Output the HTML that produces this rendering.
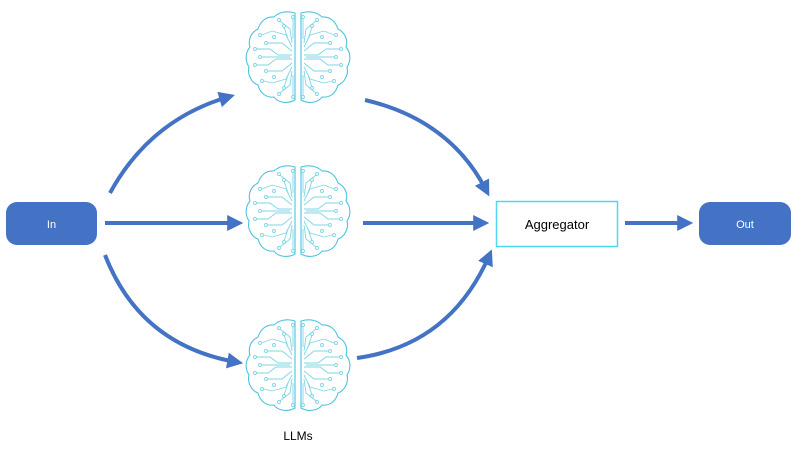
<!DOCTYPE html>
<html><head><meta charset="utf-8"><style>
html,body{margin:0;padding:0;background:#fff;}
svg{display:block;}
text{font-family:"Liberation Sans",sans-serif;}
</style></head><body>
<svg width="800" height="450" viewBox="0 0 800 450" xmlns="http://www.w3.org/2000/svg">
<defs>
<marker id="ah" markerWidth="4" markerHeight="4" refX="2.2" refY="2" orient="auto" markerUnits="strokeWidth">
<path d="M0,0 L4,2 L0,4 Z" fill="#4472C4"/>
</marker>
<g id="brain" fill="none" stroke="#4CC3DD" stroke-width="1.1">
<path d="M-3,-44 C-12,-47 -20,-44 -24,-40 C-33,-41 -38,-34 -40,-28 C-48,-24 -50,-16 -48,-10 C-53,-4 -53,4 -49,10 C-51,18 -46,26 -40,28 C-38,36 -32,41 -24,40 C-20,46 -10,47 -3,43 Z"/>
<path d="M3,-44 C12,-47 20,-44 24,-40 C33,-41 38,-34 40,-28 C48,-24 50,-16 48,-10 C53,-4 53,4 49,10 C51,18 46,26 40,28 C38,36 32,41 24,40 C20,46 10,47 3,43 Z"/>
<g id="half" stroke="#7FD6E6" stroke-width="0.9">
<path d="M-6,-2 L-20,-2 L-28,-8 L-42,-8"/><circle cx="-43" cy="-8" r="1.5"/>
<path d="M-6,2 L-22,2 L-30,8 L-42,8"/><circle cx="-43" cy="8" r="1.5"/>
<path d="M-6,-6 L-16,-14 L-30,-14"/><circle cx="-32" cy="-14" r="1.5"/>
<path d="M-6,6 L-16,14 L-30,14"/><circle cx="-32" cy="14" r="1.5"/>
<path d="M-6,-10 L-12,-22 L-26,-26"/><circle cx="-38" cy="-22" r="1.5"/><path d="M-26,-26 L-36,-22"/>
<path d="M-6,10 L-12,22 L-26,26"/><circle cx="-36" cy="24" r="1.5"/><path d="M-26,26 L-34,24"/>
<path d="M-6,-14 L-8,-28 L-18,-36"/><circle cx="-19" cy="-37" r="1.5"/>
<path d="M-6,14 L-8,28 L-18,36"/><circle cx="-19" cy="37" r="1.5"/>
<path d="M-5,-18 L-5,-38"/><circle cx="-5" cy="-40" r="1.5"/>
<path d="M-5,18 L-5,38"/><circle cx="-5" cy="40" r="1.5"/>
<path d="M-10,-18 L-14,-30"/><circle cx="-14" cy="-31" r="1.5"/>
<path d="M-10,18 L-14,30"/><circle cx="-14" cy="31" r="1.5"/>
<path d="M-8,0 L-36,0"/><circle cx="-38" cy="0" r="1.5"/>
<circle cx="-24" cy="-20" r="1.5"/><circle cx="-24" cy="20" r="1.5"/>
</g>
<use href="#half" transform="scale(-1,1)"/>
</g>
</defs>

<g fill="none" stroke="#4472C4" stroke-width="4" marker-end="url(#ah)">
<path d="M110,193 Q150,120 228,97"/>
<path d="M105,223 L236,223"/>
<path d="M105,255 Q140,345 236,362"/>
<path d="M365,100 Q450,120 486,190"/>
<path d="M363,223 L482,223"/>
<path d="M357,358 Q450,345 489,256"/>
<path d="M625,223 L686,223"/>
</g>

<use href="#brain" transform="translate(298,57)"/>
<use href="#brain" transform="translate(298,211)"/>
<use href="#brain" transform="translate(298,365)"/>

<rect x="6" y="202" width="91" height="43" rx="11" fill="#4472C4"/>
<text x="51.5" y="228" font-size="11" fill="#fff" text-anchor="middle">In</text>
<rect x="699" y="202" width="92" height="43" rx="11" fill="#4472C4"/>
<text x="745" y="228" font-size="11" fill="#fff" text-anchor="middle">Out</text>
<rect x="496.5" y="201.5" width="121" height="45" fill="#fff" stroke="#4FD9EE" stroke-width="1.5"/>
<text x="557" y="229" font-size="13" fill="#000" text-anchor="middle">Aggregator</text>
<text x="298" y="440" font-size="12" fill="#000" text-anchor="middle">LLMs</text>
</svg>
</body></html>
